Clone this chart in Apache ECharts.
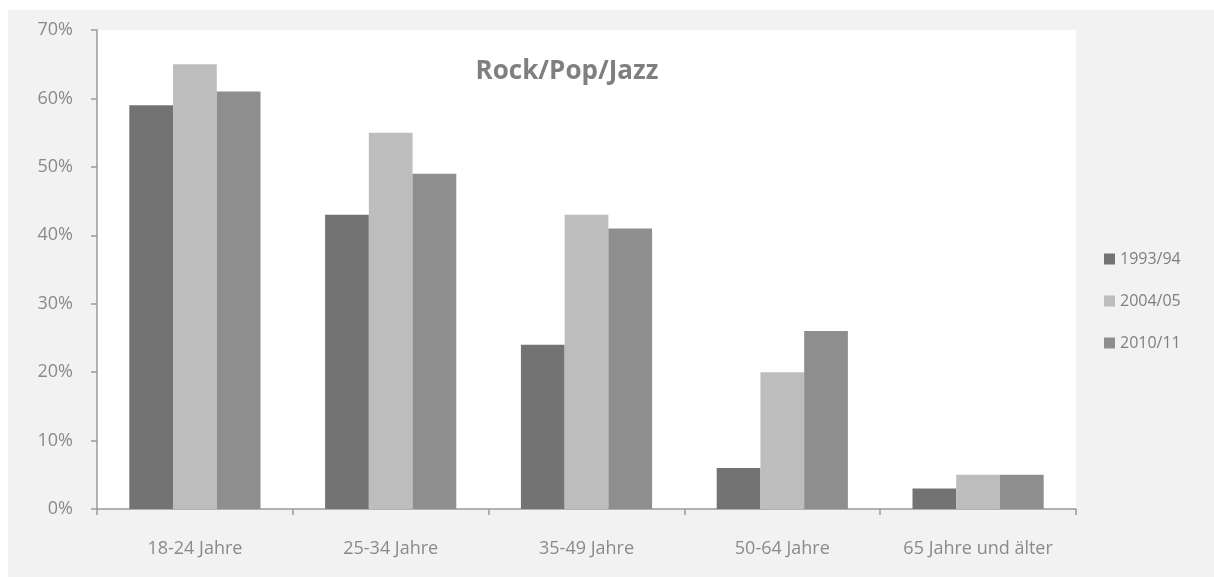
<!DOCTYPE html>
<html>
<head>
<meta charset="utf-8">
<script src="https://cdn.jsdelivr.net/npm/echarts@6/dist/echarts.min.js"></script>
<style>
  html, body { margin: 0; padding: 0; background: #fff; }
  #chart { position: absolute; left: 8px; top: 10px; width: 1206px; height: 567px; background: #f2f2f2; }
</style>
</head>
<body>
<div id="chart"></div>
<script>
const categories = ['18-24 Jahre', '25-34 Jahre', '35-49 Jahre', '50-64 Jahre', '65 Jahre und älter']
const seriesNames = ['1993/94', '2004/05', '2010/11']
const values1993 = [59, 43, 24, 6, 3]
const values2004 = [65, 55, 43, 20, 5]
const values2010 = [61, 49, 41, 26, 5]
const colors = ['#737373', '#bdbdbd', '#8e8e8e']

const font = '"Open Sans", sans-serif'
const chart = echarts.init(document.getElementById('chart'))

const makeSeries = (name, data, color) => ({
  name,
  type: 'bar',
  data,
  barGap: '0%',
  barCategoryGap: '33%',
  itemStyle: { color },
  emphasis: { disabled: true }
})

chart.setOption({
  animation: false,
  title: {
    text: 'Rock/Pop/Jazz',
    left: 554,
    top: 44,
    textAlign: 'center',
    textStyle: { color: '#7f7f7f', fontSize: 26, fontWeight: 'bold', fontFamily: font }
  },
  legend: {
    orient: 'vertical',
    left: 1091,
    top: 234,
    itemWidth: 11,
    itemHeight: 11,
    itemGap: 22,
    icon: 'rect',
    textStyle: { color: '#7f7f7f', fontSize: 16, lineHeight: 20, fontFamily: font },
    data: seriesNames
  },
  grid: {
    left: 89,
    right: 138,
    top: 20,
    bottom: 68,
    show: true,
    backgroundColor: '#fff',
    borderWidth: 0
  },
  xAxis: {
    type: 'category',
    data: categories,
    axisLine: { lineStyle: { color: '#9a9a9a', width: 1.5 } },
    axisTick: { show: true, length: 6, lineStyle: { color: '#9a9a9a', width: 1.5 } },
    axisLabel: { color: '#8a8a8a', fontSize: 18, fontFamily: font, margin: 31 },
    splitLine: { show: false }
  },
  yAxis: {
    type: 'value',
    min: 0,
    max: 70,
    interval: 10,
    axisLine: { show: true, lineStyle: { color: '#9a9a9a', width: 1.5 } },
    axisTick: { show: true, length: 6, lineStyle: { color: '#9a9a9a', width: 1.5 } },
    axisLabel: { color: '#8a8a8a', fontSize: 18, fontFamily: font, margin: 24, formatter: '{value}%' },
    splitLine: { show: false }
  },
  series: [
    makeSeries(seriesNames[0], values1993, colors[0]),
    makeSeries(seriesNames[1], values2004, colors[1]),
    makeSeries(seriesNames[2], values2010, colors[2])
  ]
})
</script>
</body>
</html>
